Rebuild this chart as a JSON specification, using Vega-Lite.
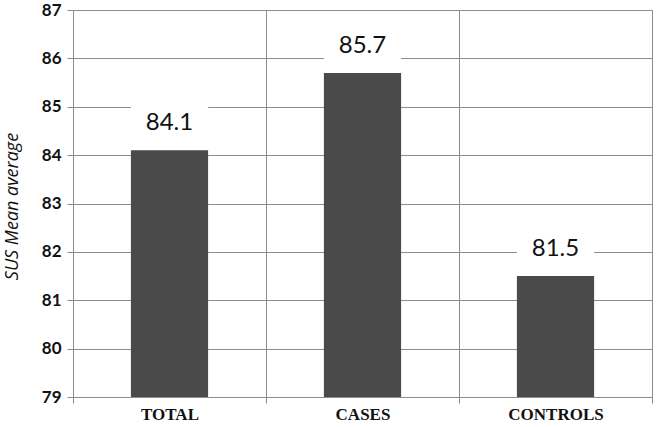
{
  "$schema": "https://vega.github.io/schema/vega-lite/v6.json",
  "autosize": "none",
  "width": 579,
  "height": 387,
  "padding": {"left": 73, "top": 10, "right": 4, "bottom": 30},
  "background": "white",
  "data": {"values": [
    {"group": "TOTAL", "mean": 84.1},
    {"group": "CASES", "mean": 85.7},
    {"group": "CONTROLS", "mean": 81.5}
  ]},
  "config": {"view": {"stroke": null}},
  "encoding": {
    "x": {"field": "group", "type": "nominal", "sort": null,
      "scale": {"paddingInner": 0, "paddingOuter": 0},
      "axis": {"title": null, "labelAngle": 0, "tickBand": "extent", "grid": true,
        "gridColor": "#8c8c8c", "gridWidth": 1, "gridOpacity": 1,
        "domainColor": "#8c8c8c", "tickColor": "#8c8c8c", "tickSize": 6,
        "labelFont": "Liberation Serif", "labelFontWeight": "bold", "labelFontSize": 17,
        "labelColor": "#111", "labelPadding": 3}},
    "y": {"field": "mean", "type": "quantitative",
      "scale": {"domain": [79, 87], "zero": false, "nice": false},
      "axis": {"title": "SUS  Mean average", "values": [79,80,81,82,83,84,85,86,87],
        "labelOverlap": false, "labelFlush": false,
        "grid": true, "gridColor": "#8c8c8c", "gridWidth": 1, "gridOpacity": 1,
        "domainColor": "#8c8c8c", "tickColor": "#8c8c8c", "tickSize": 6,
        "labelFont": "Lato", "labelFontWeight": "bold", "labelFontSize": 17, "labelColor": "#111",
        "labelPadding": 6,
        "titleFont": "Open Sans", "titleFontStyle": "italic", "titleFontWeight": "normal",
        "titleFontSize": 18, "titleColor": "#111", "titleX": -61, "titleY": 196, "titleBaseline": "middle", "titleAngle": -90}}
  },
  "layer": [
    {"mark": {"type": "bar", "color": "#4a4a4a", "width": {"band": 0.4}},
     "encoding": {"y2": {"datum": 79}}},
    {"mark": {"type": "bar", "color": "white", "width": {"band": 0.4}, "yOffset": -5, "y2Offset": -49},
     "encoding": {"y2": {"field": "mean"}}},
    {"mark": {"type": "text", "font": "Lato", "fontSize": 24, "color": "#111", "baseline": "middle", "dy": -27},
     "encoding": {"text": {"field": "mean", "type": "quantitative", "format": ".1f"}}}
  ]
}
